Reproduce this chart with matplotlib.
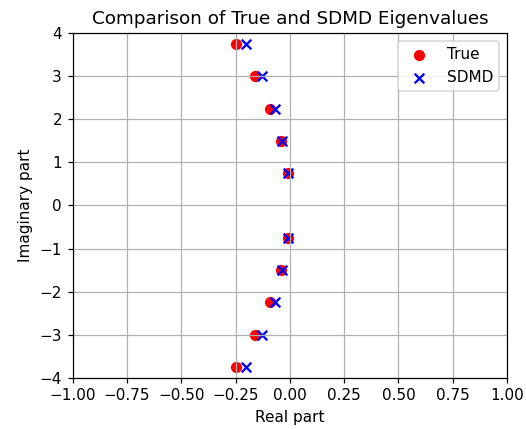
import matplotlib
matplotlib.use("Agg")
import matplotlib.pyplot as plt

true_real = [-0.01, -0.04, -0.09, -0.16, -0.25, -0.01, -0.04, -0.09, -0.16, -0.25]
true_imag = [0.75, 1.5, 2.25, 3.0, 3.75, -0.75, -1.5, -2.25, -3.0, -3.75]
sdmd_real = [-0.008, -0.035, -0.07, -0.128, -0.2, -0.008, -0.035, -0.07, -0.128, -0.2]
sdmd_imag = [0.75, 1.5, 2.25, 3.0, 3.75, -0.75, -1.5, -2.25, -3.0, -3.75]

dpi = 110
fig = plt.figure(figsize=(526 / dpi, 429 / dpi), dpi=dpi)
ax = fig.add_axes([72.7 / 526, 1 - 377.7 / 429, (507 - 72.7) / 526, (377.7 - 33.3) / 429])
ax.scatter(true_real, true_imag, color='red', marker='o', s=40, label='True')
ax.scatter(sdmd_real, sdmd_imag, color='blue', marker='x', s=40, label='SDMD')
ax.set_xlim(-1, 1)
ax.set_ylim(-4, 4)
ax.set_xlabel('Real part')
ax.set_ylabel('Imaginary part')
ax.set_title('Comparison of True and SDMD Eigenvalues')
ax.legend()
ax.grid(True)
fig.savefig('out.png', dpi=dpi)
